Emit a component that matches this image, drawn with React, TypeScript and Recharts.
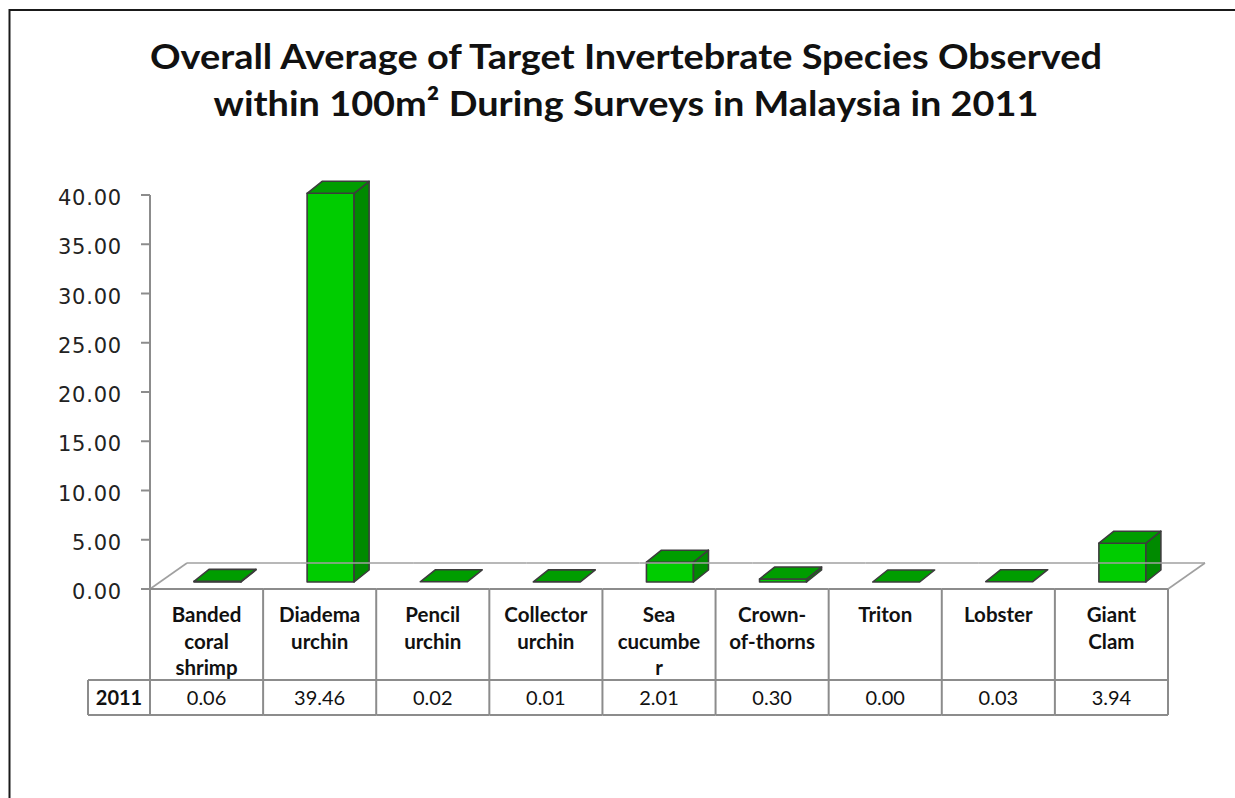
import React from "react";
import { BarChart, Bar, XAxis, YAxis } from "recharts";

// species shown along the category axis (as wrapped in the data table)
const categoryLines = [
  ["Banded", "coral", "shrimp"],
  ["Diadema", "urchin"],
  ["Pencil", "urchin"],
  ["Collector", "urchin"],
  ["Sea", "cucumbe", "r"],
  ["Crown-", "of-thorns"],
  ["Triton"],
  ["Lobster"],
  ["Giant", "Clam"],
];
const categories = categoryLines.map((l) => l.join(" "));
const seriesName = "2011";
const values2011 = [0.06, 39.46, 0.02, 0.01, 2.01, 0.3, 0.0, 0.03, 3.94];
const yTicks = [0, 5, 10, 15, 20, 25, 30, 35, 40];

const W = 1235;
const H = 798;
const MARGIN = { top: 195, right: 67, bottom: 83, left: 90 };
const Y_AXIS_W = 60;
const X_AXIS_H = 126;
const PLOT_W = W - MARGIN.left - Y_AXIS_W - MARGIN.right;
const BAND = PLOT_W / categories.length;

// 3d look
const FLOOR_DX = 37;
const FLOOR_DY = -26;
const BAR_DX = 11;
const BAR_DY = -7;
const SIDE_DX = 15;
const SIDE_DY = -12;

const GRID = "#8c8c8c";
const TABLE_FONT = "Lato, 'Open Sans', sans-serif";

const data = categories.map((c, i) => ({ name: c, v: values2011[i] }));

function Bar3D(props: any) {
  const { x, y, width, height } = props;
  const h = Math.max(height || 0, 0);
  const fx = x + BAR_DX;
  const fy = y + BAR_DY;
  const top = `${fx},${fy} ${fx + SIDE_DX},${fy + SIDE_DY} ${fx + width + SIDE_DX},${fy + SIDE_DY} ${fx + width},${fy}`;
  const side = `${fx + width},${fy} ${fx + width + SIDE_DX},${fy + SIDE_DY} ${fx + width + SIDE_DX},${fy + h + SIDE_DY} ${fx + width},${fy + h}`;
  return (
    <g stroke="#3c3c3c" strokeWidth={1.6} strokeLinejoin="round">
      {h > 0.5 && <rect x={fx} y={fy} width={width} height={h} fill="#00cc00" />}
      {h > 0.5 && <polygon points={side} fill="#008a00" />}
      <polygon points={top} fill="#009d00" />
    </g>
  );
}

function YTick(props: any) {
  const { x, y, payload } = props;
  return (
    <text
      x={x}
      y={y + 4}
      textAnchor="end"
      dominantBaseline="middle"
      fontFamily="'DejaVu Sans', sans-serif"
      fontSize={21}
      letterSpacing={0.8}
      fill="#222"
    >
      {Number(payload.value).toFixed(2)}
    </text>
  );
}

function TableTick(props: any) {
  const { x, y, index } = props;
  const left = x - BAND / 2;
  const right = x + BAND / 2;
  const headBottom = y + 91;
  const rowBottom = y + 126;
  const last = index === categories.length - 1;
  const lines = categoryLines[index] || [];
  return (
    <g>
      {/* floor */}
      <line x1={left + FLOOR_DX} y1={y + FLOOR_DY} x2={right + FLOOR_DX} y2={y + FLOOR_DY} stroke="#a0a0a0" strokeWidth={1.6} />
      {index === 0 && (
        <line x1={left} y1={y} x2={left + FLOOR_DX} y2={y + FLOOR_DY} stroke="#a0a0a0" strokeWidth={1.6} />
      )}
      {last && (
        <line x1={right} y1={y} x2={right + FLOOR_DX} y2={y + FLOOR_DY} stroke="#a0a0a0" strokeWidth={1.6} />
      )}
      {/* table cell */}
      <g stroke={GRID} strokeWidth={2} fill="none">
        <line x1={left} y1={y} x2={right} y2={y} />
        <line x1={left} y1={headBottom} x2={right} y2={headBottom} />
        <line x1={left} y1={rowBottom} x2={right} y2={rowBottom} />
        <line x1={left} y1={y} x2={left} y2={rowBottom} />
        {last && <line x1={right} y1={y} x2={right} y2={rowBottom} />}
      </g>
      {index === 0 && (
        <g>
          <g stroke={GRID} strokeWidth={2}>
            <line x1={left - 62} y1={headBottom} x2={left} y2={headBottom} />
            <line x1={left - 62} y1={rowBottom} x2={left} y2={rowBottom} />
            <line x1={left - 62} y1={headBottom} x2={left - 62} y2={rowBottom} />
          </g>
          <text x={left - 31} y={headBottom + 25} textAnchor="middle" fontFamily={TABLE_FONT} fontWeight={700} fontSize={20} fill="#111">
            {seriesName}
          </text>
        </g>
      )}
      <text textAnchor="middle" fontFamily={TABLE_FONT} fontWeight={700} fontSize={20.5} fill="#111">
        {lines.map((l, i) => (
          <tspan key={i} x={x} y={y + 33 + i * 26.5}>
            {l}
          </tspan>
        ))}
      </text>
      <text x={x} y={headBottom + 25} textAnchor="middle" fontFamily={TABLE_FONT} fontSize={20} fill="#111">
        {values2011[index].toFixed(2)}
      </text>
    </g>
  );
}

export default function App() {
  return (
    <div style={{ position: "absolute", left: 0, top: 0, width: W, height: H, background: "#fff", overflow: "hidden" }}>
      <svg width={W} height={H} style={{ position: "absolute", left: 0, top: 0 }}>
        <path d={`M9.5,${H + 5} L9.5,10 L${W + 5},10`} stroke="#1a1a1a" strokeWidth={2} fill="none" />
        <g fontFamily="Lato, 'Open Sans', sans-serif" fontWeight={700} fontSize={35} fill="#111" textAnchor="middle">
          <text x={626} y={69} textLength={952} lengthAdjust="spacingAndGlyphs">
            Overall Average of Target Invertebrate Species Observed
          </text>
          <text x={626} y={116} textLength={825} lengthAdjust="spacingAndGlyphs">
            within 100m² During Surveys in Malaysia in 2011
          </text>
        </g>
      </svg>
      <div style={{ position: "absolute", left: 0, top: 0 }}>
        <BarChart width={W} height={H} data={data} margin={MARGIN} barSize={47}>
          <XAxis
            dataKey="name"
            axisLine={false}
            tickLine={false}
            tickSize={0}
            tickMargin={0}
            height={X_AXIS_H}
            interval={0}
            tick={<TableTick />}
          />
          <YAxis
            width={Y_AXIS_W}
            domain={[0, 40]}
            ticks={yTicks}
            axisLine={{ stroke: GRID, strokeWidth: 2 }}
            tickLine={{ stroke: GRID, strokeWidth: 2 }}
            tickSize={9}
            tickMargin={19}
            tick={<YTick />}
          />
          <Bar dataKey="v" name={seriesName} isAnimationActive={false} shape={<Bar3D />} />
        </BarChart>
      </div>
    </div>
  );
}
